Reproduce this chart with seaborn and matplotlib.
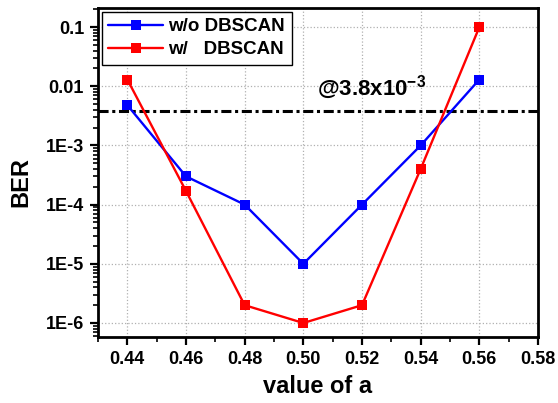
import matplotlib
matplotlib.use("Agg")
import matplotlib.pyplot as plt
import matplotlib.ticker as mticker
import numpy as np
import pandas as pd
import seaborn as sns

# BER versus parameter a, with and without DBSCAN clustering
a_values = [0.44, 0.46, 0.48, 0.50, 0.52, 0.54, 0.56]
ber_without = [4.8e-3, 3e-4, 1e-4, 1e-5, 1e-4, 1e-3, 1.3e-2]
ber_with = [1.3e-2, 1.7e-4, 2e-6, 1e-6, 2e-6, 4e-4, 1e-1]
series_names = ["w/o DBSCAN", "w/   DBSCAN"]
series_colors = ["#0000ff", "#ff0000"]
fec_limit = 3.8e-3
x_ticks = [0.44, 0.46, 0.48, 0.50, 0.52, 0.54, 0.56, 0.58]
y_ticks = [1e-6, 1e-5, 1e-4, 1e-3, 1e-2, 1e-1]
y_tick_labels = ["1E-6", "1E-5", "1E-4", "1E-3", "0.01", "0.1"]

df = pd.DataFrame({
    "a": a_values * 2,
    "BER": ber_without + ber_with,
    "series": [series_names[0]] * len(a_values) + [series_names[1]] * len(a_values),
})

sns.set_style("ticks")
plt.rcParams["font.family"] = ["Liberation Sans", "DejaVu Sans"]
plt.rcParams["font.weight"] = "bold"
plt.rcParams["mathtext.default"] = "regular"
for key in ["text.color", "axes.labelcolor", "xtick.color", "ytick.color",
            "axes.edgecolor"]:
    plt.rcParams[key] = "black"

fig = plt.figure(figsize=(5.58, 4.03), dpi=100)
ax = fig.add_axes([98 / 558, 1 - 337 / 403, 440 / 558, 329 / 403])

sns.lineplot(data=df, x="a", y="BER", hue="series", style="series",
             palette=series_colors, markers=["s", "s"], dashes=False,
             linewidth=1.7, markersize=7.5, markeredgewidth=0,
             ax=ax, legend=True)

ax.set_yscale("log")
ax.set_xlim(0.43, 0.58)
ax.set_ylim(5.8e-7, 0.21)

ax.axhline(fec_limit, color="black", linewidth=2.2,
           linestyle=(0, (3.3, 1.2, 1.0, 1.2)), zorder=1)
ax.text(0.5045, 7.0e-3, r"@3.8x10$^{-3}$", fontsize=16, fontweight="bold",
        ha="left", va="baseline", color="black")

ax.set_xticks(x_ticks)
ax.set_xticklabels([f"{v:.2f}" for v in x_ticks])
ax.xaxis.set_minor_locator(mticker.MultipleLocator(0.01))
ax.set_yticks(y_ticks)
ax.set_yticklabels(y_tick_labels)
ax.yaxis.set_minor_locator(mticker.LogLocator(base=10, subs=np.arange(2, 10), numticks=20))
ax.yaxis.set_minor_formatter(mticker.NullFormatter())

ax.tick_params(axis="both", which="major", labelsize=13, length=6, width=1.6,
               direction="out", pad=4, colors="black")
ax.tick_params(axis="both", which="minor", length=3.5, width=1.2,
               direction="out", colors="black")
for lbl in ax.get_xticklabels() + ax.get_yticklabels():
    lbl.set_fontweight("bold")

ax.grid(True, which="major", color="#b0b0b0", linestyle=":", linewidth=0.9)
for side in ["left", "right", "top", "bottom"]:
    ax.spines[side].set_visible(True)
    ax.spines[side].set_linewidth(2.0)
    ax.spines[side].set_color("black")

ax.set_xlabel("value of a", fontsize=17, fontweight="bold", labelpad=5)
ax.set_ylabel("BER", fontsize=17, fontweight="bold")
ax.yaxis.set_label_coords(-0.15, 0.47)

leg = ax.legend(loc="upper left", frameon=True, fancybox=False,
                edgecolor="black", handlelength=2.9, handletextpad=0.3,
                borderpad=0.35, labelspacing=0.3, borderaxespad=0.2,
                prop={"weight": "bold", "size": 13.5})
leg.get_frame().set_linewidth(1.0)
leg.get_frame().set_alpha(1.0)
for txt in leg.get_texts():
    txt.set_color("black")

fig.savefig("out.png", dpi=100)
